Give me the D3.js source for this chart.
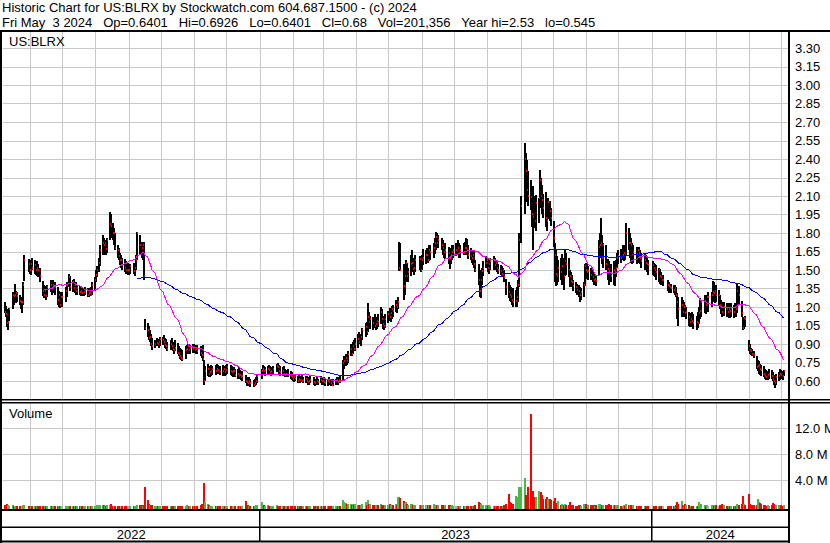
<!DOCTYPE html>
<html>
<head>
<meta charset="utf-8">
<script src="https://cdn.jsdelivr.net/npm/d3@7"></script>
<style>
  body { margin: 0; background: #fff; }
  svg { display: block; font-family: "Liberation Sans", Arial, sans-serif; }
</style>
</head>
<body>
<div id="chart"></div>
<script>
// Daily bars for US:BLRX, May 3 2022 -> May 3 2024 (one line per month)
const high = [
  1.28,1.30,1.28,1.28,1.24,1.21,1.18,1.10,1.19,1.32,1.32,1.39,1.33,1.32,1.30,1.28,1.26,1.40,1.62,1.59,
  1.58,1.57,1.60,1.58,1.56,1.57,1.55,1.52,1.41,1.38,1.37,1.36,1.38,1.42,1.41,1.42,1.40,1.36,1.33,1.30,1.32,
  1.32,1.36,1.40,1.47,1.45,1.42,1.43,1.40,1.40,1.38,1.37,1.36,1.36,1.35,1.36,1.35,1.34,1.35,1.36,1.40,
  1.44,1.50,1.53,1.60,1.70,1.78,1.76,1.74,1.73,1.76,1.97,1.95,1.88,1.84,1.80,1.70,1.68,1.64,1.62,1.60,1.59,1.57,1.56,
  1.55,1.55,1.56,1.54,1.62,1.81,1.78,1.73,1.72,1.73,1.10,1.07,1.05,1.01,0.98,0.95,0.93,0.95,0.93,0.94,0.96,
  0.96,0.97,0.95,0.94,0.92,0.93,0.95,0.92,0.90,0.93,0.91,0.88,0.87,0.86,0.85,0.88,0.89,0.90,0.90,0.89,0.90,
  0.90,0.89,0.88,0.89,0.88,0.87,0.89,0.77,0.72,0.74,0.72,0.71,0.73,0.72,0.73,0.74,0.73,0.72,0.73,0.72,0.72,
  0.73,0.74,0.73,0.72,0.71,0.71,0.70,0.70,0.71,0.69,0.68,0.68,0.65,0.63,0.62,0.63,0.62,0.61,0.62,0.63,0.66,
  0.70,0.73,0.72,0.71,0.72,0.73,0.72,0.71,0.72,0.74,0.75,0.73,0.72,0.71,0.72,0.70,0.69,0.70,0.68,0.67,
  0.66,0.65,0.66,0.64,0.65,0.64,0.65,0.63,0.64,0.64,0.62,0.63,0.64,0.63,0.62,0.63,0.62,0.64,0.63,
  0.62,0.63,0.62,0.62,0.63,0.62,0.61,0.62,0.62,0.63,0.62,0.63,0.64,0.77,0.80,0.82,0.81,0.84,0.90,0.88,0.92,0.93,0.95,
  0.98,1.00,0.98,1.03,1.07,1.08,1.23,1.16,1.13,1.12,1.14,1.11,1.12,1.14,1.20,1.18,1.13,1.12,1.14,
  1.17,1.19,1.18,1.21,1.22,1.26,1.24,1.28,1.73,1.72,1.55,1.48,1.58,1.56,1.52,1.62,1.66,1.60,1.60,1.62,1.61,1.60,
  1.62,1.67,1.66,1.68,1.68,1.70,1.70,1.72,1.76,1.81,1.80,1.78,1.76,1.74,1.72,1.72,1.69,1.68,1.67,1.70,1.70,
  1.72,1.74,1.72,1.70,1.72,1.73,1.76,1.75,1.70,1.68,1.66,1.66,1.66,1.58,1.55,1.50,1.45,1.52,1.57,1.61,
  1.60,1.59,1.58,1.60,1.61,1.60,1.58,1.57,1.55,1.54,1.53,1.52,1.50,1.43,1.40,1.38,1.36,1.34,1.35,1.34,1.36,1.42,1.80,
  2.10,2.53,2.45,2.39,2.30,2.23,2.15,2.18,2.10,2.11,2.08,2.31,2.25,2.19,2.12,2.13,2.05,2.08,2.06,2.00,
  1.90,1.72,1.66,1.61,1.58,1.60,1.63,1.60,1.66,1.64,1.60,1.50,1.48,1.46,1.42,1.40,1.39,1.38,1.36,1.35,1.40,1.55,
  1.56,1.55,1.53,1.52,1.50,1.48,1.47,1.46,1.74,1.80,1.92,1.78,1.72,1.70,1.59,1.57,1.55,1.57,1.55,1.58,1.64,
  1.66,1.67,1.70,1.68,1.70,1.88,1.84,1.80,1.76,1.72,1.70,1.69,1.68,1.69,1.66,1.64,1.63,1.62,1.60,1.58,
  1.57,1.56,1.55,1.54,1.52,1.51,1.48,1.46,1.46,1.42,1.40,1.39,1.39,1.38,1.38,1.36,1.31,1.28,1.28,1.26,1.24,
  1.22,1.20,1.16,1.15,1.13,1.16,1.14,1.13,1.16,1.20,1.27,1.26,1.30,1.28,1.30,1.32,1.32,1.41,1.40,1.38,
  1.38,1.34,1.30,1.26,1.24,1.24,1.23,1.22,1.23,1.22,1.23,1.22,1.23,1.22,1.39,1.37,1.25,1.12,1.12,1.13,
  0.93,0.90,0.87,0.86,0.84,0.80,0.77,0.76,0.74,0.73,0.72,0.70,0.69,0.68,0.70,0.69,0.67,0.65,0.64,0.66,0.67,0.70,
  0.69,0.68,0.6926
];
const low = [
  1.20,1.20,1.18,1.14,1.15,1.12,1.04,1.01,1.09,1.18,1.22,1.26,1.23,1.24,1.22,1.18,1.15,1.22,1.41,1.48,
  1.47,1.46,1.50,1.47,1.46,1.45,1.44,1.40,1.29,1.27,1.28,1.26,1.28,1.32,1.30,1.31,1.30,1.22,1.20,1.19,1.22,
  1.20,1.24,1.28,1.36,1.33,1.32,1.32,1.31,1.30,1.30,1.30,1.29,1.29,1.29,1.30,1.28,1.28,1.29,1.29,1.30,
  1.33,1.40,1.44,1.48,1.53,1.62,1.62,1.64,1.62,1.64,1.74,1.76,1.74,1.70,1.66,1.60,1.58,1.54,1.52,1.50,1.48,1.47,1.46,
  1.46,1.47,1.47,1.45,1.50,1.58,1.62,1.60,1.58,1.42,1.01,0.96,0.93,0.92,0.88,0.85,0.87,0.88,0.88,0.87,0.88,
  0.89,0.90,0.87,0.86,0.84,0.85,0.86,0.84,0.82,0.84,0.82,0.80,0.78,0.77,0.76,0.78,0.82,0.83,0.82,0.82,0.83,
  0.84,0.83,0.82,0.82,0.80,0.79,0.76,0.57,0.60,0.64,0.63,0.63,0.64,0.65,0.65,0.66,0.66,0.65,0.64,0.65,0.64,
  0.65,0.66,0.65,0.64,0.63,0.64,0.63,0.62,0.63,0.62,0.61,0.60,0.58,0.56,0.56,0.56,0.55,0.55,0.56,0.57,0.58,
  0.62,0.65,0.65,0.64,0.65,0.66,0.65,0.64,0.65,0.67,0.67,0.65,0.64,0.64,0.64,0.63,0.63,0.63,0.62,0.61,
  0.60,0.59,0.60,0.58,0.59,0.58,0.59,0.58,0.58,0.58,0.57,0.57,0.58,0.57,0.56,0.57,0.57,0.58,0.57,
  0.57,0.57,0.56,0.56,0.57,0.56,0.56,0.56,0.57,0.58,0.57,0.58,0.58,0.60,0.70,0.72,0.73,0.75,0.80,0.80,0.82,0.84,0.84,
  0.87,0.90,0.88,0.93,0.96,0.97,1.00,1.04,1.02,1.01,1.03,1.01,1.02,1.04,1.06,1.06,1.02,1.01,1.03,
  1.07,1.09,1.08,1.10,1.12,1.16,1.15,1.18,1.49,1.50,1.26,1.30,1.40,1.42,1.40,1.45,1.50,1.48,1.46,1.48,1.50,1.48,
  1.50,1.54,1.55,1.56,1.56,1.57,1.58,1.60,1.63,1.66,1.68,1.68,1.66,1.62,1.60,1.59,1.55,1.51,1.55,1.58,1.60,
  1.61,1.62,1.60,1.60,1.62,1.62,1.64,1.62,1.59,1.58,1.56,1.54,1.52,1.48,1.38,1.28,1.27,1.38,1.45,1.52,
  1.52,1.48,1.47,1.50,1.50,1.51,1.50,1.48,1.47,1.46,1.45,1.44,1.40,1.30,1.27,1.25,1.24,1.22,1.20,1.20,1.20,1.24,1.36,
  1.72,1.95,2.05,2.12,2.02,1.99,1.85,1.66,1.84,1.82,1.88,2.00,2.02,1.95,1.92,1.85,1.82,1.91,1.90,1.86,
  1.69,1.40,1.37,1.38,1.40,1.42,1.38,1.34,1.45,1.46,1.44,1.36,1.36,1.36,1.33,1.31,1.30,1.28,1.24,1.26,1.28,1.37,
  1.44,1.43,1.42,1.42,1.40,1.38,1.38,1.37,1.45,1.60,1.62,1.55,1.52,1.50,1.42,1.38,1.40,1.38,1.37,1.44,1.52,
  1.55,1.56,1.58,1.57,1.58,1.62,1.66,1.60,1.56,1.55,1.56,1.55,1.56,1.57,1.55,1.52,1.50,1.51,1.48,1.46,
  1.46,1.45,1.44,1.42,1.40,1.39,1.38,1.38,1.37,1.33,1.31,1.31,1.31,1.31,1.30,1.28,1.10,1.05,1.12,1.13,1.12,
  1.12,1.10,1.05,1.04,1.04,1.05,1.02,1.01,1.03,1.06,1.10,1.12,1.15,1.14,1.18,1.16,1.20,1.25,1.24,1.23,
  1.24,1.22,1.18,1.14,1.12,1.13,1.12,1.12,1.11,1.11,1.12,1.11,1.12,1.12,1.15,1.22,1.12,1.01,1.02,1.04,
  0.84,0.82,0.81,0.80,0.79,0.70,0.68,0.66,0.65,0.64,0.63,0.62,0.61,0.61,0.62,0.62,0.60,0.57,0.545,0.57,0.60,0.61,
  0.62,0.61,0.6401
];
const close = [
  1.25,1.27,1.26,1.26,1.16,1.14,1.07,1.08,1.18,1.30,1.29,1.30,1.31,1.29,1.25,1.24,1.24,1.38,1.58,1.55,
  1.50,1.55,1.52,1.54,1.50,1.52,1.50,1.45,1.33,1.30,1.33,1.29,1.36,1.38,1.35,1.38,1.36,1.26,1.30,1.22,1.28,
  1.28,1.33,1.38,1.44,1.36,1.40,1.35,1.38,1.33,1.35,1.32,1.33,1.31,1.32,1.34,1.30,1.31,1.31,1.30,1.38,
  1.42,1.46,1.50,1.56,1.66,1.72,1.70,1.72,1.67,1.74,1.87,1.86,1.80,1.80,1.68,1.66,1.61,1.58,1.58,1.54,1.52,1.50,1.50,
  1.50,1.53,1.49,1.52,1.58,1.80,1.70,1.68,1.70,1.45,1.03,1.01,0.95,0.96,0.90,0.88,0.90,0.91,0.90,0.92,0.94,
  0.93,0.92,0.89,0.88,0.86,0.90,0.88,0.86,0.85,0.87,0.83,0.82,0.80,0.79,0.78,0.85,0.86,0.88,0.85,0.87,0.86,
  0.87,0.85,0.86,0.84,0.83,0.81,0.78,0.60,0.68,0.70,0.66,0.67,0.68,0.70,0.68,0.70,0.69,0.67,0.68,0.70,0.67,
  0.69,0.71,0.68,0.67,0.68,0.68,0.65,0.66,0.64,0.65,0.63,0.64,0.60,0.59,0.58,0.60,0.58,0.57,0.58,0.60,0.64,
  0.68,0.70,0.68,0.69,0.70,0.69,0.67,0.68,0.70,0.72,0.71,0.68,0.67,0.68,0.66,0.65,0.66,0.65,0.64,0.63,
  0.62,0.63,0.62,0.60,0.62,0.61,0.60,0.61,0.62,0.60,0.59,0.60,0.61,0.59,0.58,0.60,0.59,0.61,0.60,
  0.60,0.59,0.58,0.60,0.59,0.58,0.57,0.59,0.60,0.61,0.59,0.61,0.60,0.75,0.76,0.79,0.76,0.82,0.86,0.82,0.88,0.86,0.90,
  0.94,0.92,0.96,1.01,1.04,1.00,1.12,1.08,1.10,1.07,1.05,1.06,1.09,1.08,1.16,1.10,1.06,1.05,1.10,
  1.14,1.12,1.15,1.18,1.17,1.22,1.20,1.24,1.52,1.50,1.37,1.45,1.56,1.45,1.48,1.55,1.56,1.51,1.52,1.58,1.59,1.50,
  1.58,1.60,1.62,1.62,1.58,1.66,1.65,1.68,1.72,1.77,1.72,1.74,1.70,1.68,1.65,1.66,1.64,1.60,1.62,1.65,1.66,
  1.66,1.68,1.64,1.66,1.64,1.68,1.68,1.66,1.62,1.61,1.60,1.62,1.55,1.50,1.42,1.33,1.42,1.49,1.52,1.56,
  1.58,1.52,1.55,1.57,1.58,1.54,1.56,1.52,1.50,1.49,1.47,1.50,1.44,1.36,1.32,1.30,1.28,1.26,1.24,1.25,1.28,1.38,1.74,
  2.02,2.40,2.30,2.15,2.10,2.09,1.95,1.93,1.90,2.04,2.08,2.23,2.10,2.07,2.00,1.92,1.90,2.05,1.98,1.92,
  1.76,1.62,1.47,1.45,1.52,1.48,1.53,1.45,1.57,1.55,1.50,1.45,1.41,1.40,1.37,1.36,1.34,1.33,1.30,1.32,1.38,1.53,
  1.50,1.48,1.49,1.46,1.44,1.42,1.43,1.41,1.69,1.70,1.72,1.60,1.70,1.55,1.51,1.49,1.45,1.50,1.48,1.52,1.60,
  1.61,1.60,1.62,1.64,1.62,1.80,1.72,1.72,1.70,1.62,1.65,1.63,1.66,1.64,1.60,1.57,1.58,1.56,1.55,1.54,
  1.54,1.52,1.50,1.48,1.50,1.45,1.44,1.42,1.42,1.38,1.37,1.36,1.35,1.34,1.35,1.30,1.24,1.18,1.22,1.16,1.20,
  1.15,1.16,1.12,1.08,1.10,1.09,1.07,1.08,1.07,1.15,1.17,1.24,1.25,1.22,1.28,1.28,1.30,1.32,1.31,1.33,
  1.30,1.30,1.22,1.20,1.16,1.20,1.18,1.16,1.18,1.17,1.19,1.16,1.20,1.18,1.33,1.30,1.15,1.03,1.11,1.10,
  0.88,0.85,0.84,0.82,0.81,0.71,0.72,0.73,0.70,0.69,0.66,0.64,0.63,0.65,0.66,0.64,0.62,0.60,0.58,0.63,0.64,0.66,
  0.65,0.64,0.68
];
// volume in thousands of shares
const volume = [
  150,180,200,250,250,200,450,300,150,200,150,120,100,120,100,120,100,250,300,150,
  150,100,90,80,90,70,80,100,120,90,80,70,90,80,60,70,60,90,80,100,70,
  80,70,90,120,80,70,60,70,60,50,60,50,60,50,60,50,60,50,60,90,
  120,150,180,200,250,300,200,150,120,180,250,350,150,120,100,120,100,80,90,80,70,60,70,
  70,60,70,60,120,300,250,200,150,250,3000,1000,400,250,200,200,150,120,150,120,100,
  100,90,80,90,100,80,90,70,80,70,80,90,70,80,100,150,200,120,100,80,90,
  100,90,100,80,300,400,350,3600,700,450,200,150,120,150,100,90,80,70,90,100,80,
  100,150,120,110,100,120,100,90,100,80,90,100,850,300,200,150,120,100,150,250,200,
  750,300,200,150,200,150,120,100,120,200,150,100,90,100,80,90,80,70,90,80,
  90,80,100,80,90,70,80,60,70,60,70,60,80,70,60,70,150,120,100,
  70,60,80,70,60,80,70,60,70,90,80,100,120,1000,650,500,350,400,450,300,450,300,350,
  300,250,200,350,650,300,1000,450,400,250,200,200,250,300,450,300,200,150,250,
  250,400,300,250,200,350,300,1400,1450,1250,900,500,650,400,300,450,350,250,200,250,300,200,
  200,250,300,250,200,300,250,350,300,250,200,300,250,200,150,200,250,200,150,200,150,
  150,120,150,130,120,110,150,130,120,110,100,120,150,200,650,600,350,250,200,180,
  200,150,180,150,120,150,130,120,140,130,120,150,200,450,1900,700,500,400,350,1600,1000,1500,3000,
  3000,4400,1700,1800,3000,14100,2400,2400,1500,1400,2300,2000,2200,1800,1100,1100,1500,1200,1200,1000,
  850,1350,600,300,850,300,450,300,450,200,300,650,300,200,200,150,150,200,200,150,350,350,
  350,300,250,300,250,200,150,200,450,350,300,200,250,200,200,350,300,250,200,200,250,
  200,150,150,200,150,450,300,250,200,150,200,150,150,120,150,120,100,120,100,150,
  150,120,100,120,100,120,100,110,100,150,120,100,110,100,120,200,700,400,850,300,200,
  450,300,200,150,150,120,150,120,150,650,400,350,200,150,200,150,200,250,150,200,
  200,150,200,150,350,200,150,120,150,130,120,150,130,120,450,250,400,1600,350,250,
  1900,450,300,250,250,300,1100,700,500,400,250,200,150,200,150,200,550,450,200,300,250,200,
  200,150,201
];

// axis labels
const priceTicks = [0.60,0.75,0.90,1.05,1.20,1.35,1.50,1.65,1.80,1.95,2.10,2.25,2.40,2.55,2.70,2.85,3.00,3.15,3.30];
const volumeTicks = [4, 8, 12];   // millions
const years = ['2022', '2023', '2024'];

// US market holidays inside the window
const holidays = ['2022-05-30','2022-06-20','2022-07-04','2022-09-05','2022-11-24','2022-12-26',
  '2023-01-02','2023-01-16','2023-02-20','2023-04-07','2023-05-29','2023-06-19','2023-07-04',
  '2023-09-04','2023-11-23','2023-12-25','2024-01-01','2024-01-15','2024-02-19','2024-03-29'];

const header1 = 'Historic Chart for US:BLRX by Stockwatch.com 604.687.1500 - (c) 2024';
const header2 = 'Fri May  3 2024   Op=0.6401   Hi=0.6926   Lo=0.6401   Cl=0.68   Vol=201,356   Year hi=2.53   lo=0.545';

// build trading days
const dayKey = d3.timeFormat('%Y-%m-%d');
const days = d3.timeDay.range(new Date(2022, 4, 3), new Date(2024, 4, 4))
  .filter(d => d.getDay() !== 0 && d.getDay() !== 6 && !holidays.includes(dayKey(d)));

const data = days.map((d, i) => ({
  date: d, high: high[i], low: low[i], close: close[i], vol: volume[i] / 1000,
  prev: i > 0 ? close[i - 1] : close[i]
})).filter(d => d.close !== undefined);

// simple moving average of closes
function sma(n) {
  const out = [];
  for (let i = n - 1; i < data.length; i++) {
    out.push({ date: data[i].date, v: d3.mean(data.slice(i - n + 1, i + 1), d => d.close) });
  }
  return out;
}
const ma30 = sma(30);
const ma90 = sma(90);

// layout
const width = 830, height = 543;
const plot = { left: 3, right: 789 };
const pricePanel = { top: 32, bottom: 399 };
const volPanel = { top: 403, bottom: 509 };

const svg = d3.select('#chart').append('svg')
  .attr('width', width)
  .attr('height', height);

svg.append('rect').attr('width', width).attr('height', height).attr('fill', '#fff');

// scales
const x = d3.scaleTime()
  .domain([new Date(2022, 4, 7), new Date(2024, 4, 8)])
  .range([plot.left, plot.right]);

const y = d3.scaleLinear()
  .domain([0.60, 3.30])
  .range([381, 48]);

const yVol = d3.scaleLinear()
  .domain([0, 12])
  .range([506.5, 428]);

const defs = svg.append('defs');
defs.append('clipPath').attr('id', 'clipPrice').append('rect')
  .attr('x', plot.left).attr('y', pricePanel.top)
  .attr('width', plot.right - plot.left).attr('height', pricePanel.bottom - pricePanel.top);
defs.append('clipPath').attr('id', 'clipVol').append('rect')
  .attr('x', plot.left).attr('y', volPanel.top)
  .attr('width', plot.right - plot.left).attr('height', volPanel.bottom - volPanel.top);

// gridlines
const months = d3.timeMonth.range(new Date(2022, 5, 1), new Date(2024, 4, 2));
const grid = svg.append('g')
  .attr('stroke', '#c8c8c8')
  .attr('stroke-width', 1)
  .attr('shape-rendering', 'crispEdges');

grid.selectAll('.vp')
  .data(months)
  .enter()
  .append('line')
  .attr('x1', d => Math.round(x(d)) + 0.5).attr('x2', d => Math.round(x(d)) + 0.5)
  .attr('y1', pricePanel.top).attr('y2', pricePanel.bottom);

grid.selectAll('.vv')
  .data(months)
  .enter()
  .append('line')
  .attr('x1', d => Math.round(x(d)) + 0.5).attr('x2', d => Math.round(x(d)) + 0.5)
  .attr('y1', volPanel.top).attr('y2', volPanel.bottom);

grid.selectAll('.hp')
  .data(priceTicks)
  .enter()
  .append('line')
  .attr('x1', plot.left).attr('x2', plot.right)
  .attr('y1', d => Math.round(y(d)) + 0.5).attr('y2', d => Math.round(y(d)) + 0.5);

grid.selectAll('.hv')
  .data(volumeTicks)
  .enter()
  .append('line')
  .attr('x1', plot.left).attr('x2', plot.right)
  .attr('y1', d => Math.round(yVol(d)) + 0.5).attr('y2', d => Math.round(yVol(d)) + 0.5);

// price bars: black high-low, small red close mark
const price = svg.append('g').attr('clip-path', 'url(#clipPrice)');

price.selectAll('.bar')
  .data(data)
  .enter()
  .append('rect')
  .attr('x', d => Math.round(x(d.date)) - 1)
  .attr('width', 2)
  .attr('y', d => Math.round(y(d.high)))
  .attr('height', d => Math.max(1, Math.round(y(d.low)) - Math.round(y(d.high))))
  .attr('fill', '#000')
  .attr('shape-rendering', 'crispEdges');

price.selectAll('.cl')
  .data(data)
  .enter()
  .append('rect')
  .attr('x', d => Math.round(x(d.date)))
  .attr('width', 1)
  .attr('y', d => Math.round(y(d.close)) - 1)
  .attr('height', 2)
  .attr('fill', '#ff0000')
  .attr('shape-rendering', 'crispEdges');

// moving averages
const maLine = d3.line().x(d => x(d.date)).y(d => y(d.v));

price.append('path')
  .datum(ma90)
  .attr('d', maLine)
  .attr('fill', 'none')
  .attr('stroke', '#0000ff')
  .attr('stroke-width', 1)
  .attr('shape-rendering', 'crispEdges');

price.append('path')
  .datum(ma30)
  .attr('d', maLine)
  .attr('fill', 'none')
  .attr('stroke', '#ff00ff')
  .attr('stroke-width', 1)
  .attr('shape-rendering', 'crispEdges');

// volume bars
svg.append('g')
  .attr('clip-path', 'url(#clipVol)')
  .selectAll('rect')
  .data(data)
  .enter()
  .append('rect')
  .attr('x', d => Math.round(x(d.date)) - 1)
  .attr('width', 2)
  .attr('y', d => Math.round(yVol(d.vol)))
  .attr('height', d => volPanel.bottom + 1 - Math.round(yVol(d.vol)))
  .attr('fill', d => d.close > d.prev ? '#4cb84c' : (d.close < d.prev ? '#ff0000' : '#aaaaaa'))
  .attr('shape-rendering', 'crispEdges');

// frame lines
const frame = svg.append('g').attr('fill', '#000');
frame.append('rect').attr('x', 0).attr('y', 30).attr('width', width).attr('height', 2);
frame.append('rect').attr('x', 0).attr('y', 30).attr('width', 2).attr('height', height - 30);
frame.append('rect').attr('x', 788).attr('y', 30).attr('width', 2).attr('height', height - 30);
frame.append('rect').attr('x', 0).attr('y', 399).attr('width', width).attr('height', 1.5);
frame.append('rect').attr('x', 0).attr('y', 402).attr('width', width).attr('height', 1.5);
frame.append('rect').attr('x', 0).attr('y', 509).attr('width', 790).attr('height', 2);
frame.append('rect').attr('x', 0).attr('y', 526.5).attr('width', 790).attr('height', 1.5);
frame.append('rect').attr('x', 0).attr('y', 540.5).attr('width', 790).attr('height', 2);

// year dividers in the date band
const yearStarts = [new Date(2023, 0, 1), new Date(2024, 0, 1)];
frame.selectAll('.yd')
  .data(yearStarts)
  .enter()
  .append('rect')
  .attr('x', d => Math.round(x(d)) - 1)
  .attr('y', 510)
  .attr('width', 1.5)
  .attr('height', 31);

// year labels centred in their span
const yearEdges = [plot.left, x(yearStarts[0]), x(yearStarts[1]), plot.right];
svg.selectAll('.yl')
  .data(years)
  .enter()
  .append('text')
  .attr('x', (d, i) => (yearEdges[i] + yearEdges[i + 1]) / 2)
  .attr('y', 539)
  .attr('text-anchor', 'middle')
  .attr('font-size', 13)
  .text(d => d);

// right price axis
const yAxis = svg.append('g')
  .attr('transform', 'translate(' + plot.right + ',0)')
  .call(d3.axisRight(y).tickValues(priceTicks).tickFormat(d3.format('.2f')).tickSize(0).tickPadding(6));
yAxis.select('.domain').remove();
yAxis.selectAll('text').attr('font-size', 13).attr('font-family', '"Liberation Sans", Arial, sans-serif').attr('fill', '#000');

// right volume axis
const vAxis = svg.append('g')
  .attr('transform', 'translate(' + plot.right + ',0)')
  .call(d3.axisRight(yVol).tickValues(volumeTicks).tickFormat(d => d.toFixed(1) + ' M').tickSize(0).tickPadding(6));
vAxis.select('.domain').remove();
vAxis.selectAll('text').attr('font-size', 13).attr('font-family', '"Liberation Sans", Arial, sans-serif').attr('fill', '#000');

// titles (non-breaking spaces keep the wide gaps)
svg.append('text').attr('x', 2).attr('y', 12).attr('font-size', 13)
  .text(header1.replace(/ /g, '\u00a0'));
svg.append('text').attr('x', 2).attr('y', 27).attr('font-size', 13)
  .text(header2.replace(/ /g, '\u00a0'));
svg.append('text').attr('x', 9).attr('y', 46).attr('font-size', 13).text('US:BLRX');
svg.append('text').attr('x', 9).attr('y', 418).attr('font-size', 13).text('Volume');
</script>
</body>
</html>
